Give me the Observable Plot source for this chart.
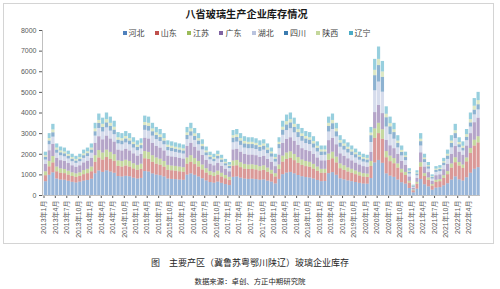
<!DOCTYPE html>
<html><head><meta charset="utf-8">
<script src="https://cdn.jsdelivr.net/npm/d3@7"></script>
<script src="https://cdn.jsdelivr.net/npm/@observablehq/plot@0.6"></script>
<style>
html,body{margin:0;padding:0;background:#fff;}
#wrap{position:relative;width:500px;height:289px;overflow:hidden;font-family:"Noto Sans CJK SC","Liberation Sans",sans-serif;}
#frame{position:absolute;left:2.5px;top:2.5px;width:491px;height:241px;box-sizing:border-box;border:1px solid #d4d4d4;}
#chart{position:absolute;left:0;top:0;}
#title{position:absolute;top:6px;left:0;width:493px;text-align:center;font-size:10.2px;line-height:16px;font-weight:700;color:#1a1a1a;}
#legend{position:absolute;top:28px;left:122.5px;height:10px;display:flex;}
.item{width:32.3px;display:flex;align-items:center;font-size:8px;line-height:10px;color:#404040;}
.sw{width:4px;height:4px;margin-right:2px;flex:none;}
.cap{position:absolute;left:0;width:500px;text-align:center;color:#262626;}
#cap1{top:255.5px;font-size:9px;line-height:13px;}
#cap2{top:275px;font-size:7.4px;line-height:12px;}
</style></head>
<body>
<div id="wrap">
  <div id="frame"></div>
  <div id="chart"></div>
  <div id="title">八省玻璃生产企业库存情况</div>
  <div id="legend"></div>
  <div id="cap1" class="cap">图　主要产区（冀鲁苏粤鄂川陕辽）玻璃企业库存</div>
  <div id="cap2" class="cap">数据来源：卓创、方正中期研究院</div>
</div>
<script>
const provinces = ["河北","山东","江苏","广东","湖北","四川","陕西","辽宁"];
const seriesColors = ["#4F81BD","#C0504D","#9BBB59","#8064A2","#B9C3DE","#3B7BAF","#C4D79B","#4BACC6"];
const firstMonth = new Date(Date.UTC(2013,0,1));
const endMonth = new Date(Date.UTC(2022,6,1));
const lastTick = new Date(Date.UTC(2022,3,1));
const yTicks = [0,1000,2000,3000,4000,5000,6000,7000,8000];

const hebei = [670,980,1100,800,750,740,690,640,610,650,700,730,790,
1050,1190,1120,1200,1140,1080,920,900,930,910,840,800,830,
1160,1140,1050,990,960,900,800,780,770,750,740,
990,1050,980,900,810,710,630,600,650,590,530,480,
880,900,840,800,780,790,770,740,760,700,650,560,
780,1010,1090,1120,1050,970,910,870,850,800,730,670,680,
1060,1110,980,810,760,710,670,630,590,560,550,
820,1580,1700,1560,1050,940,880,
750,620,550,340,130,310,780,520,420,260,360,380,470,570,750,900,
760,700,860,1080,1270,1350];
const shandong = [290,410,480,350,330,320,300,280,270,280,310,330,360,
560,630,600,640,610,580,490,480,500,470,450,420,440,
620,610,560,530,510,480,420,420,410,400,390,
530,560,520,480,430,380,340,320,340,310,280,260,
540,540,510,480,480,470,470,450,460,430,390,340,
480,610,660,680,640,590,550,530,520,480,440,410,400,
650,670,600,490,460,430,410,380,360,340,330,
590,1190,1300,1170,780,700,660,
580,480,420,260,100,240,600,400,320,200,280,290,360,440,580,690,
670,620,770,960,1130,1200];
const jiangsu = [190,260,310,230,210,200,190,180,170,170,200,210,230,
320,360,340,360,340,320,270,270,280,270,250,240,250,
350,340,320,300,290,270,240,230,230,230,220,
300,320,290,270,240,210,190,180,190,180,160,140,
250,260,240,230,220,230,220,210,220,200,180,160,
220,290,310,320,300,280,260,250,240,230,210,190,190,
300,320,280,230,220,200,190,180,170,160,160,
240,460,500,460,300,270,250,
200,170,150,90,40,90,210,140,110,70,100,100,130,150,200,240,
170,160,190,240,280,300];
const guangdong = [360,520,590,420,400,390,370,340,320,340,370,390,420,
600,670,640,680,650,610,520,510,530,510,480,450,470,
650,650,600,560,540,510,450,440,430,420,420,
560,600,550,510,460,400,360,340,370,330,300,270,
540,540,510,480,480,470,470,450,460,420,390,340,
480,610,660,680,640,590,550,530,520,480,440,410,410,
650,670,600,490,460,440,410,380,360,340,330,
440,790,870,780,540,500,480,
460,380,340,210,80,190,480,320,260,160,220,230,290,350,460,550,
500,470,580,720,850,900];
const hubei = [210,290,350,250,240,230,220,200,190,200,220,230,250,
350,400,380,400,380,360,300,300,310,300,280,260,270,
380,380,350,330,320,300,260,260,250,250,240,
330,350,330,300,270,230,210,200,220,190,170,160,
350,350,330,310,310,310,300,290,300,280,250,220,
310,400,430,440,410,380,360,340,340,310,290,260,270,
420,430,380,320,300,280,260,250,230,220,210,
480,1060,1130,1040,650,540,460,
320,270,230,140,50,130,330,220,170,110,160,160,200,240,320,380,
220,210,260,320,380,400];
const sichuan = [130,180,210,150,140,140,130,120,110,120,130,140,150,
210,240,220,240,230,220,180,180,190,180,170,160,160,
230,230,210,200,190,180,160,160,150,150,150,
200,210,190,180,160,140,130,120,130,120,100,100,
220,220,210,200,200,200,190,190,190,170,160,140,
200,250,270,280,260,240,230,220,210,200,180,170,160,
270,280,250,200,190,180,170,160,150,140,140,
330,730,800,720,450,380,320,
210,170,150,90,40,80,210,140,110,70,100,100,120,160,210,240,
140,130,160,200,230,250];
const shaanxi = [80,120,140,100,90,90,90,80,80,80,90,90,100,
140,150,150,160,150,140,120,120,120,120,110,110,110,
150,150,140,130,130,120,110,100,100,100,100,
130,140,130,120,110,90,80,80,90,80,70,60,
120,130,120,120,110,110,110,100,110,100,90,80,
110,140,160,160,150,140,130,120,120,120,100,100,100,
150,160,140,120,110,100,100,90,80,80,80,
130,260,300,260,170,150,140,
120,100,80,50,20,50,120,80,60,40,60,60,70,90,120,140,
110,100,130,160,190,200];
const liaoning = [170,240,270,200,190,190,160,160,150,160,180,180,200,
270,310,300,320,300,290,250,240,240,240,220,210,220,
310,300,270,260,260,240,210,210,210,200,190,
260,270,260,240,220,190,160,160,160,150,140,130,
250,260,240,230,220,220,220,220,200,200,190,160,
220,290,320,320,300,260,260,240,250,230,210,190,190,
300,310,270,240,200,210,190,180,160,160,150,
270,530,600,510,360,320,310,
260,210,180,120,40,110,270,180,150,90,120,130,160,200,260,310,
230,210,250,320,370,400];

const seriesValues = [hebei, shandong, jiangsu, guangdong, hubei, sichuan, shaanxi, liaoning];
const months = d3.utcMonth.range(firstMonth, endMonth);
const tickDates = d3.utcMonth.range(firstMonth, d3.utcDay.offset(lastTick, 1), 3);
const fmt = d => `${d.getUTCFullYear()}年${d.getUTCMonth() + 1}月`;

const data = provinces.flatMap((p, i) => months.map((d, j) => ({
  date: d, end: d3.utcMonth.offset(d, 1), prov: p, value: seriesValues[i][j]
})));

const chart = Plot.plot({
  width: 500, height: 245,
  marginLeft: 42, marginRight: 20, marginTop: 30, marginBottom: 50,
  style: {fontFamily: "'Liberation Sans','Noto Sans CJK SC',sans-serif", fontSize: "7px", color: "#595959", background: "transparent", overflow: "visible"},
  x: {type: "utc", domain: [firstMonth, endMonth], range: [43.5, 480], ticks: tickDates, tickFormat: fmt, tickRotate: -90, tickSize: 3, tickPadding: 2, label: null},
  y: {domain: [0, 8000], ticks: yTicks, tickFormat: d => String(d), tickSize: 3, tickPadding: 3, label: null},
  color: {domain: provinces, range: seriesColors},
  marks: [
    Plot.rectY(data, {x1: "date", x2: "end", y: "value", fill: "prov", fillOpacity: 0.58, insetLeft: 0.3, insetRight: 0.3}),
    Plot.ruleY([0], {stroke: "#c0c0c0"}),
    Plot.ruleX([firstMonth], {stroke: "#c0c0c0", dx: -1.5})
  ]
});
document.getElementById("chart").appendChild(chart);

const legend = document.getElementById("legend");
provinces.forEach((p, i) => {
  const it = document.createElement("div");
  it.className = "item";
  const sw = document.createElement("span");
  sw.className = "sw";
  sw.style.background = seriesColors[i];
  const tx = document.createElement("span");
  tx.textContent = p;
  it.appendChild(sw); it.appendChild(tx);
  legend.appendChild(it);
});
</script>
</body></html>
